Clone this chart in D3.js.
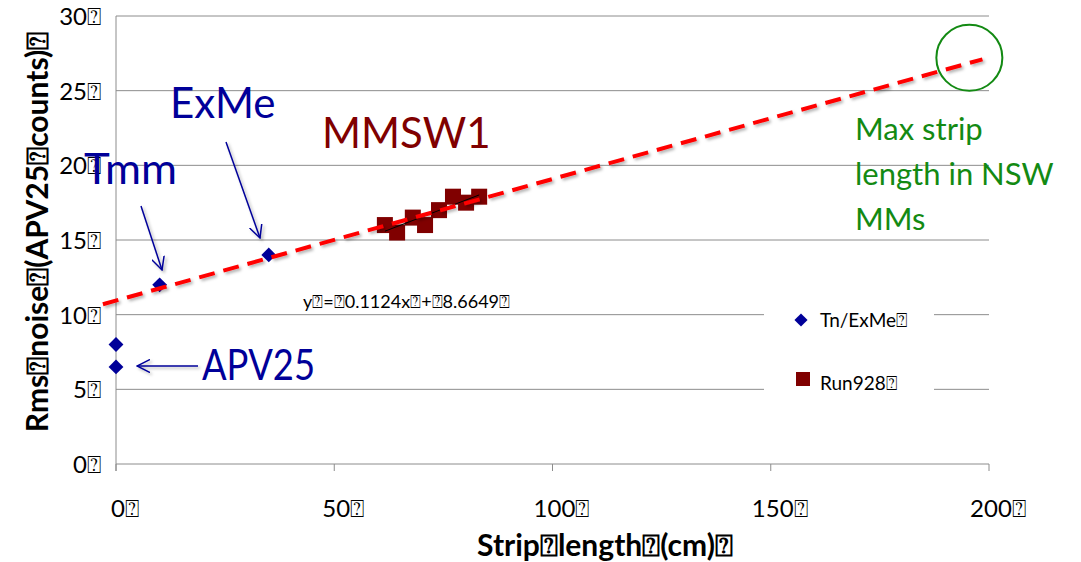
<!DOCTYPE html>
<html>
<head>
<meta charset="utf-8">
<script src="https://cdn.jsdelivr.net/npm/d3@7"></script>
<style>
  body { margin: 0; background: #fff; }
  text { font-family: Lato, "Open Sans", sans-serif; }
</style>
</head>
<body>
<div id="chart"></div>
<script>
// data
const tnExMe = [
    {x: 0, y: 8.0},
    {x: 0, y: 6.5},
    {x: 10, y: 12.0},
    {x: 35, y: 14.0}
];
const run928 = [
    {x: 61.6, y: 16.0},
    {x: 64.4, y: 15.5},
    {x: 68.0, y: 16.5},
    {x: 70.8, y: 16.0},
    {x: 74.0, y: 17.0},
    {x: 77.2, y: 17.9},
    {x: 80.2, y: 17.5},
    {x: 83.2, y: 17.9}
];
// linear trend of run928 as printed on the chart
const trendSlope = 0.1124;
const trendIntercept = 8.6649;
const trendRange = [61.6, 83.2];
// hand-drawn extrapolation line
const extrapolation = [{x: -3, y: 10.7}, {x: 198.5, y: 27.1}];
const maxStrip = {x: 195.5, y: 27.2};
const xTicks = [0, 50, 100, 150, 200];
const yTicks = [0, 5, 10, 15, 20, 25, 30];
const Q = "\u2370";

const width = 1081, height = 562;
const margin = {top: 16, right: 92, bottom: 98, left: 116};

const svg = d3.select("#chart").append("svg")
    .attr("width", width)
    .attr("height", height);

const defs = svg.append("defs");
const shadow = defs.append("filter").attr("id", "shadow")
    .attr("filterUnits", "userSpaceOnUse")
    .attr("x", 0).attr("y", 0).attr("width", width).attr("height", height);
shadow.append("feDropShadow")
    .attr("dx", 2).attr("dy", 2).attr("stdDeviation", 1.5)
    .attr("flood-color", "#000").attr("flood-opacity", 0.3);

const arrowHead = defs.append("marker")
    .attr("id", "arrow")
    .attr("viewBox", "0 0 14 14")
    .attr("refX", 13).attr("refY", 7)
    .attr("markerWidth", 14).attr("markerHeight", 14)
    .attr("markerUnits", "userSpaceOnUse")
    .attr("orient", "auto");
arrowHead.append("path")
    .attr("d", "M0,0.5 L13,7 L0,13.5")
    .attr("fill", "none")
    .attr("stroke", "#000099")
    .attr("stroke-width", 1.5);

const x = d3.scaleLinear().domain([0, 200]).range([margin.left, width - margin.right]);
const y = d3.scaleLinear().domain([0, 30]).range([height - margin.bottom, margin.top]);

// gridlines
svg.append("g")
  .selectAll("line")
  .data(yTicks)
  .join("line")
    .attr("x1", x(0))
    .attr("x2", x(200))
    .attr("y1", d => y(d))
    .attr("y2", d => y(d))
    .attr("stroke", "#8c8c8c")
    .attr("stroke-width", 1);

// y axis line
svg.append("line")
    .attr("x1", x(0)).attr("x2", x(0))
    .attr("y1", y(30)).attr("y2", y(0) + 7)
    .attr("stroke", "#8c8c8c");

// x ticks
svg.append("g")
  .selectAll("line")
  .data(xTicks)
  .join("line")
    .attr("x1", d => x(d)).attr("x2", d => x(d))
    .attr("y1", y(0)).attr("y2", y(0) + 7)
    .attr("stroke", "#8c8c8c");

// tick labels
svg.append("g")
  .selectAll("text")
  .data(yTicks)
  .join("text")
    .attr("x", x(0) - 15)
    .attr("y", d => y(d) + 9)
    .attr("text-anchor", "end")
    .attr("font-size", 24)
    .text(d => d + Q);

svg.append("g")
  .selectAll("text")
  .data(xTicks)
  .join("text")
    .attr("x", d => x(d) + 9)
    .attr("y", y(0) + 53)
    .attr("text-anchor", "middle")
    .attr("font-size", 24)
    .text(d => d + Q);

// axis titles
svg.append("text")
    .attr("x", 605)
    .attr("y", 556)
    .attr("text-anchor", "middle")
    .attr("font-size", 30)
    .attr("font-weight", "bold")
    .text("Strip" + Q + "length" + Q + "(cm)" + Q);

svg.append("text")
    .attr("transform", "translate(48,232) rotate(-90)")
    .attr("text-anchor", "middle")
    .attr("font-size", 30)
    .attr("font-weight", "bold")
    .text("Rms" + Q + "noise" + Q + "(APV25" + Q + "counts)" + Q);

// legend box (hides gridlines behind it)
const legend = svg.append("g");
legend.append("rect")
    .attr("x", 764).attr("y", 298)
    .attr("width", 170).attr("height", 106)
    .attr("fill", "#fff");
legend.append("path")
    .attr("d", d3.symbol().type(d3.symbolDiamond2).size(110))
    .attr("transform", "translate(801,320)")
    .attr("fill", "#000099");
legend.append("text")
    .attr("x", 820).attr("y", 327)
    .attr("font-size", 19)
    .text("Tn/ExMe" + Q);
legend.append("rect")
    .attr("x", 796).attr("y", 372)
    .attr("width", 14).attr("height", 14)
    .attr("fill", "#800000");
legend.append("text")
    .attr("x", 820).attr("y", 390)
    .attr("font-size", 19)
    .text("Run928" + Q);

// Run928 squares
svg.append("g")
  .selectAll("rect")
  .data(run928)
  .join("rect")
    .attr("x", d => x(d.x) - 8)
    .attr("y", d => y(d.y) - 8)
    .attr("width", 16)
    .attr("height", 16)
    .attr("fill", "#800000");

// trendline
const trendLine = d3.line()
    .x(d => x(d))
    .y(d => y(trendSlope * d + trendIntercept));
svg.append("path")
    .datum(trendRange)
    .attr("d", trendLine)
    .attr("stroke", "#000")
    .attr("stroke-width", 1)
    .attr("fill", "none");

// Tn/ExMe diamonds
svg.append("g")
  .selectAll("path")
  .data(tnExMe)
  .join("path")
    .attr("d", d3.symbol().type(d3.symbolDiamond2).size(140))
    .attr("transform", d => "translate(" + x(d.x) + "," + y(d.y) + ")")
    .attr("fill", "#000099");

// extrapolation dashed line
const line = d3.line().x(d => x(d.x)).y(d => y(d.y));
svg.append("path")
    .datum(extrapolation)
    .attr("d", line)
    .attr("stroke", "#ff0000")
    .attr("stroke-width", 4)
    .attr("stroke-dasharray", "16,9")
    .attr("fill", "none")
    .attr("filter", "url(#shadow)");

// equation
svg.append("text")
    .attr("x", 303).attr("y", 308)
    .attr("font-size", 18)
    .text("y" + Q + "=" + Q + "0.1124x" + Q + "+" + Q + "8.6649" + Q);

// annotations
const annot = svg.append("g").attr("fill", "#000099").attr("font-size", 42);
annot.append("text").attr("x", 170).attr("y", 118).text("ExMe");
annot.append("text").attr("x", 84).attr("y", 184)
    .attr("textLength", 93).attr("lengthAdjust", "spacingAndGlyphs")
    .text("Tmm");
annot.append("text").attr("x", 202).attr("y", 380)
    .attr("textLength", 113).attr("lengthAdjust", "spacingAndGlyphs")
    .text("APV25");

svg.append("text")
    .attr("x", 322).attr("y", 148)
    .attr("font-size", 42)
    .attr("fill", "#800000")
    .text("MMSW1");

const arrows = [
    [{x: 141, y: 206}, {x: 162, y: 270}],
    [{x: 226, y: 142}, {x: 260, y: 238}],
    [{x: 198, y: 366}, {x: 137, y: 366}]
];
svg.append("g")
  .selectAll("line")
  .data(arrows)
  .join("line")
    .attr("x1", d => d[0].x).attr("y1", d => d[0].y)
    .attr("x2", d => d[1].x).attr("y2", d => d[1].y)
    .attr("stroke", "#000099")
    .attr("stroke-width", 1.5)
    .attr("marker-end", "url(#arrow)")
    .attr("filter", "url(#shadow)");

// max strip length circle
svg.append("circle")
    .attr("cx", x(maxStrip.x))
    .attr("cy", y(maxStrip.y))
    .attr("r", 33)
    .attr("fill", "none")
    .attr("stroke", "#138a13")
    .attr("stroke-width", 2);

svg.append("text")
    .attr("fill", "#138a13")
    .attr("font-size", 31)
  .selectAll("tspan")
  .data(["Max strip", "length in NSW", "MMs"])
  .join("tspan")
    .attr("x", 855)
    .attr("y", (d, i) => 140 + i * 45)
    .text(d => d);
</script>
</body>
</html>
